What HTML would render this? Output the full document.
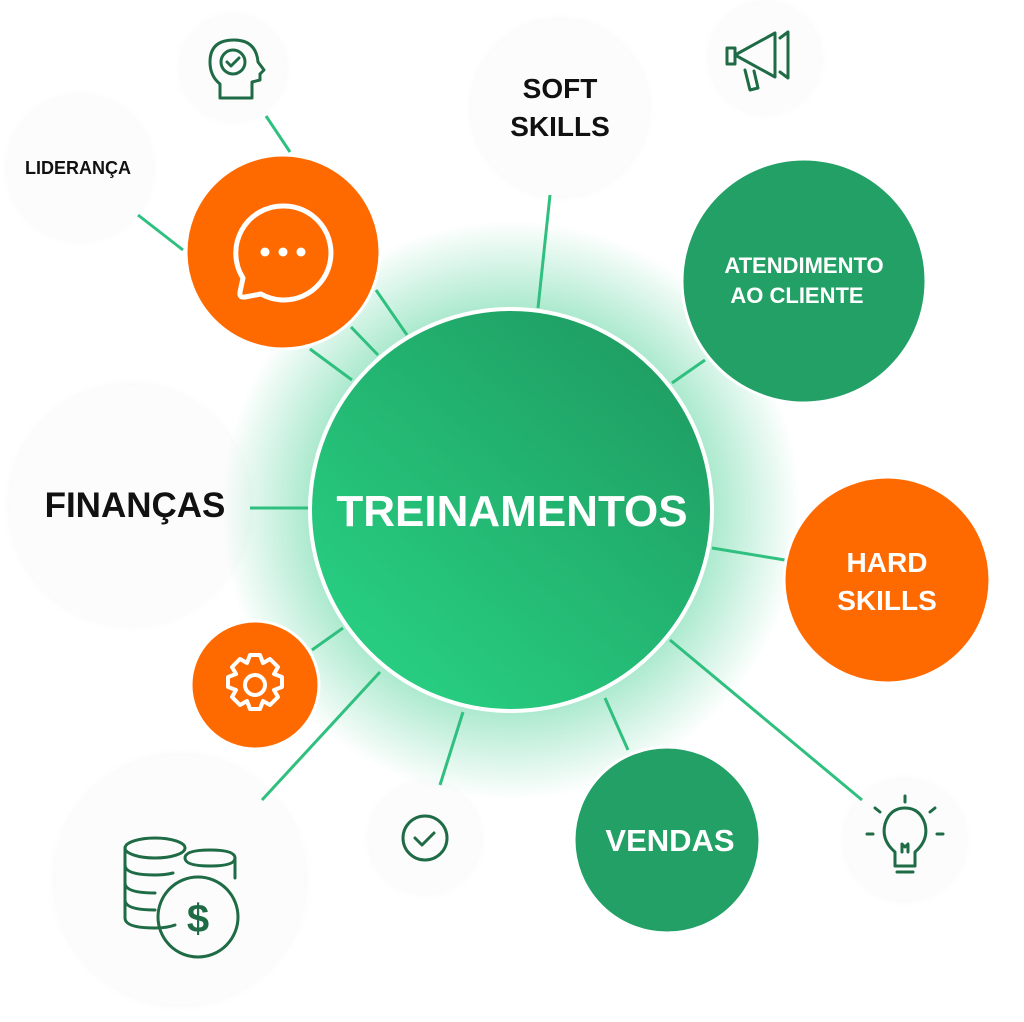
<!DOCTYPE html>
<html><head><meta charset="utf-8"><style>
html,body{margin:0;padding:0;background:#fff;}
svg{display:block}
text{font-family:"Liberation Sans",sans-serif;font-weight:bold}
</style></head><body>
<svg width="1024" height="1022" viewBox="0 0 1024 1022" xmlns="http://www.w3.org/2000/svg">
<defs>
<radialGradient id="glow" cx="0.5" cy="0.5" r="0.5">
<stop offset="0.62" stop-color="#2fc985" stop-opacity="0.5"/>
<stop offset="1" stop-color="#2fc985" stop-opacity="0"/>
</radialGradient>
<linearGradient id="cg" x1="0.2" y1="0.85" x2="0.85" y2="0.1">
<stop offset="0" stop-color="#27cc80"/>
<stop offset="1" stop-color="#1f9e63"/>
</linearGradient>
<filter id="sh"><feDropShadow dx="0" dy="0" stdDeviation="4" flood-opacity="0.04"/></filter>
</defs>
<g fill="#fcfcfc" filter="url(#sh)">
<circle cx="233" cy="68" r="52"/>
<circle cx="80" cy="168" r="72"/>
<circle cx="560" cy="108" r="88"/>
<circle cx="765" cy="58" r="55"/>
<circle cx="130" cy="505" r="120"/>
<circle cx="425" cy="838" r="55"/>
<circle cx="905" cy="840" r="60"/>
<circle cx="180" cy="880" r="125"/>
</g>
<circle cx="511" cy="510" r="290" fill="url(#glow)"/>
<g stroke="#2fc07f" stroke-width="3" fill="none">
<line x1="550" y1="195" x2="538" y2="308"/>
<line x1="266" y1="116" x2="290" y2="152"/>
<line x1="138" y1="215" x2="183" y2="250"/>
<line x1="376" y1="290" x2="407" y2="335"/>
<line x1="351" y1="327" x2="378" y2="355"/>
<line x1="310" y1="349" x2="352" y2="380"/>
<line x1="250" y1="508" x2="310" y2="508"/>
<line x1="672" y1="383" x2="705" y2="360"/>
<line x1="712" y1="548" x2="785" y2="560"/>
<line x1="670" y1="640" x2="862" y2="800"/>
<line x1="605" y1="698" x2="628" y2="750"/>
<line x1="463" y1="712" x2="440" y2="785"/>
<line x1="380" y1="672" x2="262" y2="800"/>
<line x1="312" y1="650" x2="343" y2="628"/>
</g>
<circle cx="511" cy="510" r="201" fill="url(#cg)" stroke="#fff" stroke-width="4"/>
<text x="512" y="526" text-anchor="middle" font-size="44" fill="#fff">TREINAMENTOS</text>
<circle cx="283" cy="252" r="97" fill="#ff6a00" stroke="#fff" stroke-width="3"/>
<g stroke="#fff" stroke-width="5" fill="none" stroke-linejoin="round">
<path d="M283 206 a47 47 0 1 1 -22 88 l-16 3 q-6 1 -5 -5 l3 -14 a47 47 0 0 1 40 -72z"/>
</g>
<g fill="#fff"><circle cx="265" cy="252" r="4.5"/><circle cx="283" cy="252" r="4.5"/><circle cx="301" cy="252" r="4.5"/></g>
<circle cx="804" cy="281" r="122" fill="#22a065" stroke="#fff" stroke-width="3"/>
<text x="804" y="273" text-anchor="middle" font-size="22" fill="#fff">ATENDIMENTO</text>
<text x="797" y="303" text-anchor="middle" font-size="22" fill="#fff">AO CLIENTE</text>
<circle cx="887" cy="580" r="103" fill="#ff6a00" stroke="#fff" stroke-width="3"/>
<text x="887" y="572" text-anchor="middle" font-size="28" fill="#fff">HARD</text>
<text x="887" y="610" text-anchor="middle" font-size="28" fill="#fff">SKILLS</text>
<circle cx="667" cy="840" r="93" fill="#22a065" stroke="#fff" stroke-width="3"/>
<text x="670" y="851" text-anchor="middle" font-size="31" fill="#fff">VENDAS</text>
<circle cx="255" cy="685" r="64" fill="#ff6a00" stroke="#fff" stroke-width="3"/>
<g stroke="#fff" stroke-width="4" fill="none">
<circle cx="255" cy="685" r="10"/>
<path d="M250 655 h10 l3 8 7 -4 8 8 -4 7 8 3 v10 l-8 3 4 7 -8 8 -7 -4 -3 8 h-10 l-3 -8 -7 4 -8 -8 4 -7 -8 -3 v-10 l8 -3 -4 -7 8 -8 7 4z" stroke-linejoin="round"/>
</g>
<text x="560" y="98" text-anchor="middle" font-size="28" fill="#111">SOFT</text>
<text x="560" y="136" text-anchor="middle" font-size="28" fill="#111">SKILLS</text>
<text x="78" y="174" text-anchor="middle" font-size="18" fill="#111">LIDERANÇA</text>
<text x="135" y="517" text-anchor="middle" font-size="35" fill="#111">FINANÇAS</text>
<g stroke="#1e6b45" stroke-width="3" fill="none" stroke-linejoin="round" stroke-linecap="round">
<path d="M220 98 v-14 q-10 -8 -10 -22 q0 -22 24 -22 q22 0 24 22 l6 8 -4 4 v6 l-8 2 v16z"/>
<circle cx="233" cy="62" r="12"/><path d="M227 62 l4 4 8 -8"/>
<path d="M735 55 l40 -22 v44 l-40 -22z M735 48 v16 h-8 v-16z M745 70 l5 20 8 -2 -4 -17 M780 38 l8 -6 v46 l-8 -6"/>
<circle cx="425" cy="838" r="22"/><path d="M415 838 l7 7 12 -12"/>
<path d="M895 852 q-14 -12 -10 -28 q5 -16 20 -16 q15 0 20 16 q4 16 -10 28 v14 h-20z M897 872 h16 M902 852 v-8 l3 3 3 -3 v8"/>
<path d="M905 802 v-6 M880 812 l-5 -4 M930 812 l5 -4 M873 834 h-6 M937 834 h6"/>
<ellipse cx="155" cy="848" rx="30" ry="10"/>
<path d="M125 848 v70 q0 10 30 10 q12 0 20 -3 M125 865 q0 10 30 10 q10 0 18 -2 M125 883 q0 10 30 10 M125 900 q0 10 30 10"/>
<path d="M185 858 q0 -8 25 -8 q25 0 25 8 q0 8 -25 8 q-25 0 -25 -8 M235 858 v20"/>
<circle cx="198" cy="917" r="40"/>
</g>
<text x="198" y="932" text-anchor="middle" font-size="40" fill="#1e6b45" font-weight="normal">$</text>
</svg>
</body></html>
